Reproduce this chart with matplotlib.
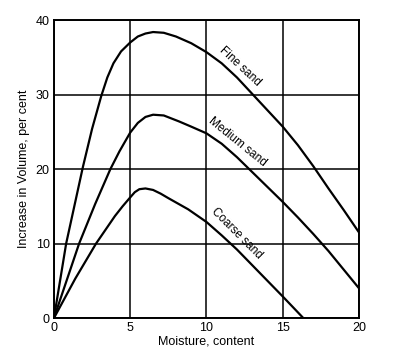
import matplotlib
matplotlib.use('Agg')
from matplotlib import pyplot as plt

plt.rcParams['font.family'] = ['Liberation Sans', 'DejaVu Sans']

# values (moisture content, increase in volume %)
fine_x = [0, 0.8, 1.9, 2.5, 3.1, 3.5, 3.9, 4.4, 5, 5.5, 6.0, 6.5, 7.2, 8.0, 9.0,
          10, 11, 12, 13, 14, 15, 16, 17, 18, 19, 20]
fine_y = [0, 10, 20.3, 25.4, 29.8, 32.3, 34.2, 35.8, 37.0, 37.8, 38.2, 38.4, 38.3, 37.8, 36.9,
          35.7, 34.2, 32.3, 30.1, 27.9, 25.7, 23.2, 20.4, 17.4, 14.5, 11.5]

medium_x = [0, 1.65, 2.7, 3.7, 4.3, 5, 5.5, 6.0, 6.5, 7.2, 8.2, 9,
            10, 11, 12, 13, 14, 15, 16, 17, 18, 19, 20]
medium_y = [0, 10, 15.3, 20.0, 22.4, 24.9, 26.2, 27.0, 27.3, 27.2, 26.4, 25.7,
            24.8, 23.4, 21.6, 19.6, 17.6, 15.6, 13.5, 11.3, 9.0, 6.5, 4.0]

coarse_x = [0, 1.4, 2.76, 4.0, 4.5, 5, 5.3, 5.6, 6.0, 6.5, 7.0, 7.5, 8.8,
            10, 11, 12, 13, 14, 15, 15.7, 16.35]
coarse_y = [0, 5.3, 10, 13.7, 15.0, 16.2, 16.9, 17.3, 17.4, 17.2, 16.7, 16.1, 14.6,
            12.9, 11.1, 9.2, 7.1, 5.0, 2.9, 1.4, 0]

labels = ['Fine sand', 'Medium sand', 'Coarse sand']
label_pos = [(12.2, 33.8, -43), (12.0, 23.7, -39), (12.0, 11.4, -45)]

xticks = [0, 5, 10, 15, 20]
yticks = [0, 10, 20, 30, 40]

fig = plt.figure(figsize=(4.15, 3.53), dpi=100)
ax = fig.add_axes([0.130, 0.099, 0.735, 0.844])

for xs, ys in [(fine_x, fine_y), (medium_x, medium_y), (coarse_x, coarse_y)]:
    ax.plot(xs, ys, color='black', lw=1.6, solid_joinstyle='round')

for text, (tx, ty, rot) in zip(labels, label_pos):
    ax.text(tx, ty, text, rotation=rot, ha='center', va='center',
            fontsize=8.5, rotation_mode='anchor')

ax.set_xlim(0, 20)
ax.set_ylim(0, 40)
ax.set_xticks(xticks)
ax.set_yticks(yticks)
ax.grid(True, color='black', lw=1.1)
ax.tick_params(length=0, labelsize=9, pad=3)
for s in ax.spines.values():
    s.set_linewidth(1.4)

ax.set_xlabel('Moisture, content', fontsize=9, labelpad=1)
ax.set_ylabel('Increase in Volume, per cent', fontsize=9, labelpad=4)

plt.savefig('out.png', dpi=100)
